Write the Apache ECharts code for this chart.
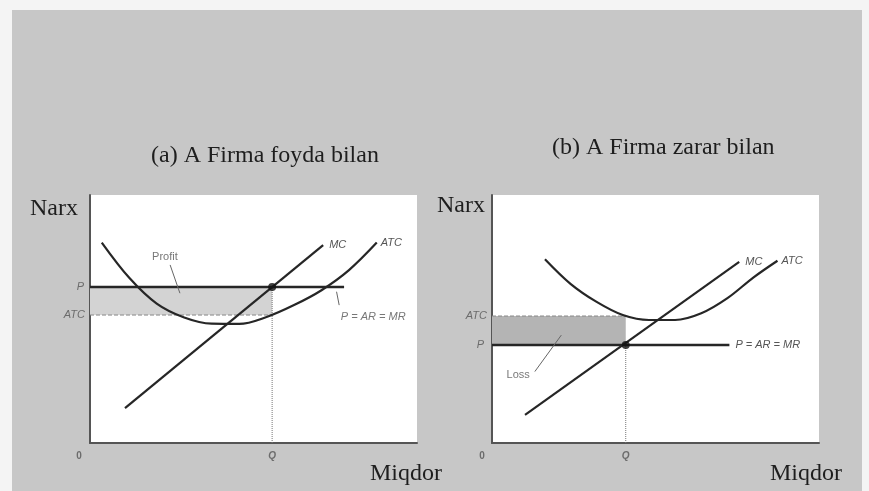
<!DOCTYPE html>
<html><head><meta charset="utf-8">
<script src="https://cdn.jsdelivr.net/npm/echarts@6/dist/echarts.min.js"></script>
<style>html,body{margin:0;padding:0;background:#f4f4f4;}#c{width:869px;height:491px;}</style>
</head><body><div id="c"></div>
<script>
// ---- Panel (a): firm makes a profit ----
const qA = 55.7, pA = 62.9, atcLevelA = 51.6, pLineEndA = 77.7;
const mcA = [[10.7, 14.1], [71.3, 79.8]];
const atcA = [[3.6, 80.8], [12.0, 66.6], [20.4, 56.2], [28.8, 50.6], [37.2, 48.1], [45.6, 48.0], [54.0, 50.8], [62.4, 55.6], [70.8, 61.6], [79.2, 69.7], [87.7, 80.8]];
const profitLabelA = [22.9, 75.0];
const profitLeaderA = [[24.5, 71.8], [27.5, 60.4]];
const priceLabelA = [86.6, 50.9];
const priceLeaderA = [[75.4, 61.0], [76.2, 55.6]];

// ---- Panel (b): firm makes a loss ----
const qB = 40.9, pB = 39.5, atcLevelB = 51.2, pLineEndB = 72.6;
const mcB = [[10.1, 11.3], [75.6, 73.0]];
const atcB = [[16.2, 74.1], [24.0, 64.2], [32.0, 56.9], [40.0, 51.6], [48.0, 49.6], [56.0, 49.6], [64.0, 52.3], [72.0, 58.4], [80.0, 66.8], [87.3, 73.5]];
const lossLabelB = [8.0, 27.4];
const lossLeaderB = [[13.1, 28.8], [21.2, 43.5]];

// ---- Texts ----
const titleA = '(a) A Firma foyda bilan';
const titleB = '(b) A Firma zarar bilan';
const yName = 'Narx';
const xName = 'Miqdor';

const chart = echarts.init(document.getElementById('c'), null, {renderer: 'canvas'});
const lineCol = '#262626';
const smallFont = {fontFamily: 'Liberation Sans, Arial, sans-serif', fontStyle: 'italic', fontSize: 11, color: '#555'};
const serif = 'Liberation Serif, Times New Roman, serif';

function axes(i) {
  return {
    gridIndex: i, type: 'value', min: 0, max: 100,
    axisLine: {show: true, onZero: false, lineStyle: {color: '#555', width: 2}},
    axisTick: {show: false}, axisLabel: {show: false}, splitLine: {show: false}
  };
}
function lbl(pt, text, pos, extra) {
  return {value: pt, label: Object.assign({show: true, formatter: text, position: pos}, smallFont, extra || {})};
}
function panelSeries(i, q, p, atcLevel, pEnd, mc, atc, shadeColor, labels, leaders, pLabelEnd) {
  const ax = {xAxisIndex: i, yAxisIndex: i};
  const s = [];
  s.push(Object.assign({type: 'line', data: [[0, p], [pEnd, p]], symbol: 'none', z: 3,
    lineStyle: {color: lineCol, width: 2.5},
    endLabel: pLabelEnd ? Object.assign({show: true, formatter: 'P = AR = MR', distance: 6}, smallFont) : {show: false},
    markArea: {silent: true, itemStyle: {color: shadeColor}, data: [[{coord: [0, Math.min(p, atcLevel)]}, {coord: [q, Math.max(p, atcLevel)]}]]}
  }, ax));
  s.push(Object.assign({type: 'line', data: [[0, atcLevel], [q, atcLevel]], symbol: 'none', z: 2,
    lineStyle: {color: '#888', width: 1, type: 'dashed'}}, ax));
  s.push(Object.assign({type: 'line', data: [[q, 0], [q, p]], symbol: 'none', z: 2,
    lineStyle: {color: '#777', width: 1, type: 'dotted'}}, ax));
  s.push(Object.assign({type: 'line', data: atc, smooth: 0.35, symbol: 'none', z: 4,
    lineStyle: {color: lineCol, width: 2.2},
    endLabel: Object.assign({show: true, formatter: 'ATC', distance: 4}, smallFont)}, ax));
  s.push(Object.assign({type: 'line', data: mc, symbol: 'none', z: 4,
    lineStyle: {color: lineCol, width: 2.2},
    endLabel: Object.assign({show: true, formatter: 'MC', distance: 6}, smallFont)}, ax));
  leaders.forEach(function (ld) {
    s.push(Object.assign({type: 'line', data: ld, symbol: 'none', z: 5, lineStyle: {color: '#666', width: 1}}, ax));
  });
  s.push(Object.assign({type: 'scatter', data: [[q, p]], symbolSize: 8, z: 6, itemStyle: {color: '#111'}}, ax));
  s.push(Object.assign({type: 'scatter', symbolSize: 0, z: 7, silent: true, data: labels}, ax));
  return s;
}

const labelsA = [
  lbl([0, pA], 'P', 'left', {distance: 6}),
  lbl([0, atcLevelA], 'ATC', 'left', {distance: 5}),
  lbl([0, 0], '0', 'bottom', {offset: [-11, 3], fontStyle: 'normal', fontWeight: 'bold', fontSize: 10}),
  lbl([qA, 0], 'Q', 'bottom', {offset: [0, 3], fontWeight: 'bold', fontSize: 10}),
  lbl(profitLabelA, 'Profit', 'inside', {fontStyle: 'normal'}),
  lbl(priceLabelA, 'P = AR = MR', 'inside', {})
];
const labelsB = [
  lbl([0, pB], 'P', 'left', {distance: 8}),
  lbl([0, atcLevelB], 'ATC', 'left', {distance: 5}),
  lbl([0, 0], '0', 'bottom', {offset: [-10, 3], fontStyle: 'normal', fontWeight: 'bold', fontSize: 10}),
  lbl([qB, 0], 'Q', 'bottom', {offset: [0, 3], fontWeight: 'bold', fontSize: 10}),
  lbl(lossLabelB, 'Loss', 'inside', {fontStyle: 'normal'})
];

const series = [].concat(
  panelSeries(0, qA, pA, atcLevelA, pLineEndA, mcA, atcA, '#d3d3d3', labelsA, [profitLeaderA, priceLeaderA], false),
  panelSeries(1, qB, pB, atcLevelB, pLineEndB, mcB, atcB, '#b4b4b4', labelsB, [lossLeaderB], true)
);

function txt(x, y, s, size) {
  return {type: 'text', x: x, y: y, z: 100, style: {text: s, fill: '#1e1e1e', font: size + 'px ' + serif, textVerticalAlign: 'middle', textAlign: 'left'}};
}

chart.setOption({
  animation: false,
  backgroundColor: 'transparent',
  grid: [
    {left: 90, top: 195, width: 327, height: 248, show: true, backgroundColor: '#ffffff', borderWidth: 0},
    {left: 492, top: 195, width: 327, height: 248, show: true, backgroundColor: '#ffffff', borderWidth: 0}
  ],
  xAxis: [axes(0), axes(1)],
  yAxis: [axes(0), axes(1)],
  graphic: [
    {type: 'rect', z: -10, shape: {x: 12, y: 10, width: 850, height: 481}, style: {fill: '#c7c7c7'}},
    txt(151, 156, titleA, 24),
    txt(552, 148, titleB, 24),
    txt(30, 209, yName, 24),
    txt(437, 206, yName, 24),
    txt(370, 474, xName, 24),
    txt(770, 474, xName, 24)
  ],
  series: series
});
</script></body></html>
